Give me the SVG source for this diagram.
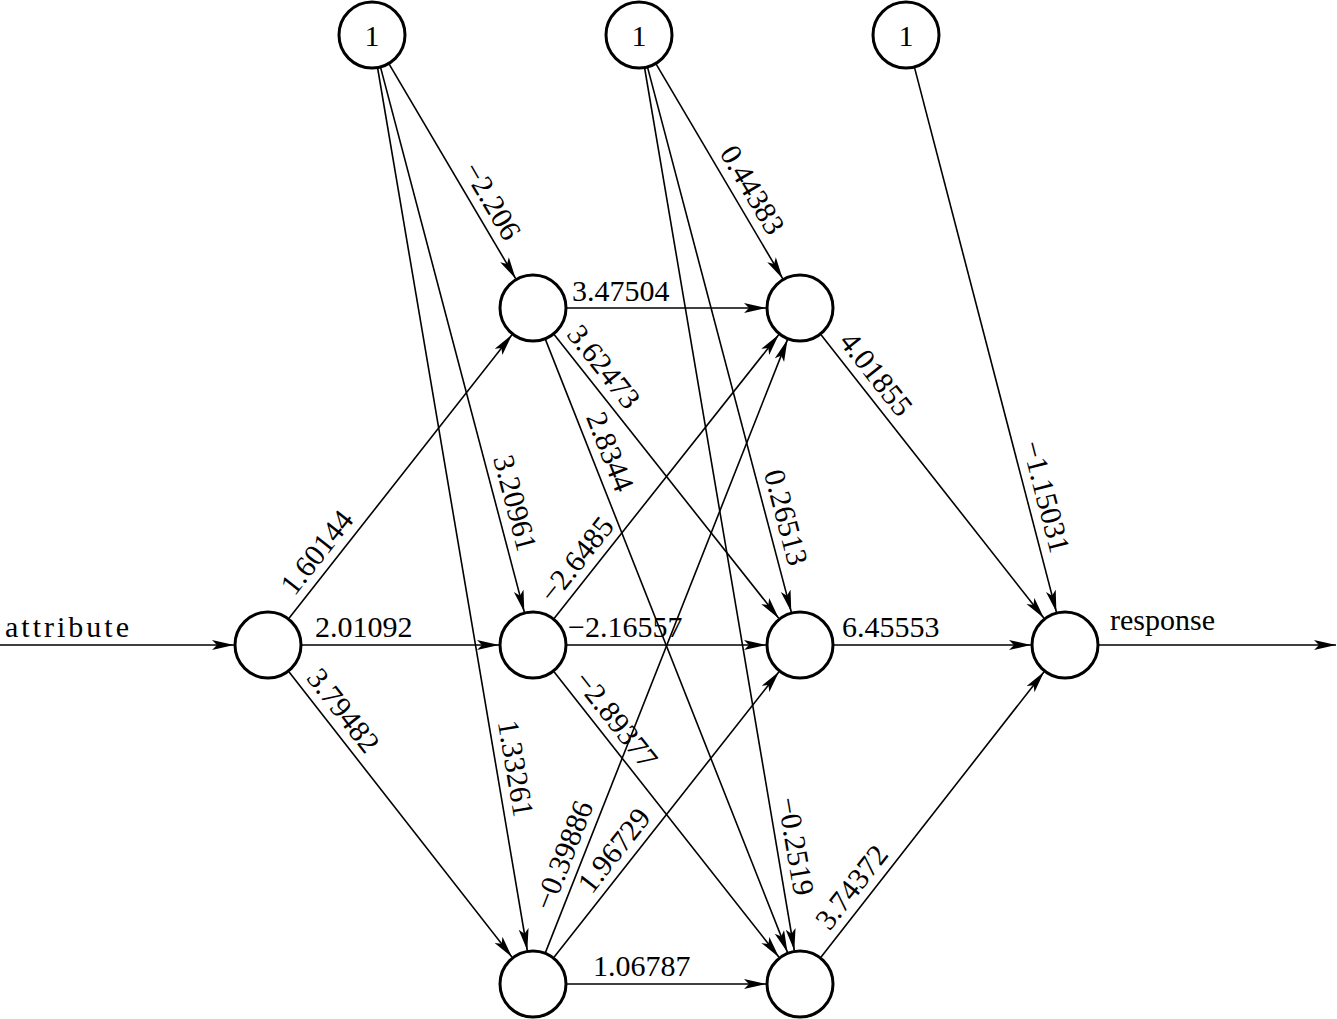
<svg xmlns="http://www.w3.org/2000/svg" width="1337" height="1019" viewBox="0 0 1337 1019">
<style>
.n{fill:#fff;stroke:#000;stroke-width:3}
.e{stroke:#000;stroke-width:1.6;fill:none;marker-end:url(#ah)}
text{font-family:"Liberation Serif","Times New Roman",serif;font-size:30px;fill:#000}
.m{text-anchor:middle}
</style>
<defs>
<marker id="ah" markerUnits="userSpaceOnUse" markerWidth="24" markerHeight="12" refX="22" refY="5" orient="auto">
<path d="M0,0 L22,5 L0,10 L5,5 z" fill="#000"/>
</marker>
</defs>
<rect width="1337" height="1019" fill="#fff"/>
<g id="connectors">
<line class="e" x1="389.3" y1="64.3" x2="515.7" y2="278.7"/>
<line class="e" x1="380.7" y1="67.9" x2="524.3" y2="612.1"/>
<line class="e" x1="377.7" y1="68.5" x2="527.3" y2="950.5"/>
<line class="e" x1="656.3" y1="64.3" x2="782.7" y2="278.7"/>
<line class="e" x1="647.7" y1="67.9" x2="791.3" y2="612.1"/>
<line class="e" x1="644.7" y1="68.5" x2="794.3" y2="950.5"/>
<line class="e" x1="914.6" y1="67.9" x2="1056.4" y2="612.1"/>
<line class="e" x1="289" y1="618.3" x2="512" y2="334.7"/>
<line class="e" x1="302" y1="645" x2="499" y2="645"/>
<line class="e" x1="288.9" y1="671.8" x2="512.1" y2="957.2"/>
<line class="e" x1="567" y1="308" x2="766" y2="308"/>
<line class="e" x1="554.1" y1="334.6" x2="778.9" y2="618.4"/>
<line class="e" x1="545.5" y1="339.6" x2="787.5" y2="952.4"/>
<line class="e" x1="554.1" y1="618.4" x2="778.9" y2="334.6"/>
<line class="e" x1="567" y1="645" x2="766" y2="645"/>
<line class="e" x1="554" y1="671.7" x2="779" y2="957.3"/>
<line class="e" x1="545.5" y1="952.4" x2="787.5" y2="339.6"/>
<line class="e" x1="554" y1="957.3" x2="779" y2="671.7"/>
<line class="e" x1="567" y1="984" x2="766" y2="984"/>
<line class="e" x1="821" y1="334.7" x2="1044" y2="618.3"/>
<line class="e" x1="834" y1="645" x2="1031" y2="645"/>
<line class="e" x1="820.9" y1="957.2" x2="1044.1" y2="671.8"/>
<line class="e" x1="0" y1="645" x2="234" y2="645"/>
<line class="e" x1="1099" y1="645" x2="1336" y2="645"/>
</g>
<g id="labels">
<text class="m" transform="translate(475.6,210.7) rotate(59.47)" y="-9">−2.206</text>
<text class="m" transform="translate(496.8,507.8) rotate(75.21)" y="-9">3.20961</text>
<text class="m" transform="translate(497,771.5) rotate(80.37)" y="-9">1.33261</text>
<text class="m" transform="translate(736,199.5) rotate(59.47)" y="-9">0.44383</text>
<text class="m" transform="translate(767.6,522.3) rotate(75.21)" y="-9">0.26513</text>
<text class="m" transform="translate(777.2,849.4) rotate(80.37)" y="-9">−0.2519</text>
<text class="m" transform="translate(1027.6,501.4) rotate(75.39)" y="-9">−1.15031</text>
<text class="m" transform="translate(331.7,564) rotate(-51.82)" y="-9">1.60144</text>
<text class="m" transform="translate(328.4,722.2) rotate(51.98)" y="-9">3.79482</text>
<text class="m" transform="translate(588.9,378.5) rotate(51.62)" y="-9">3.62473</text>
<text class="m" transform="translate(592.5,458.7) rotate(68.45)" y="-9">2.8344</text>
<text class="m" transform="translate(591.4,571.3) rotate(-51.62)" y="-9">−2.6485</text>
<text class="m" transform="translate(601.1,731.4) rotate(51.78)" y="-9">−2.89377</text>
<text class="m" transform="translate(581.1,862.2) rotate(-68.45)" y="-9">−0.39886</text>
<text class="m" transform="translate(628.9,862.2) rotate(-51.78)" y="-9">1.96729</text>
<text class="m" transform="translate(861.2,385.8) rotate(51.82)" y="-9">4.01855</text>
<text class="m" transform="translate(866.5,898.9) rotate(-51.98)" y="-9">3.74372</text>
<text x="572" y="301">3.47504</text>
<text x="315" y="637">2.01092</text>
<text x="568" y="637">−2.16557</text>
<text x="842" y="637">6.45553</text>
<text x="593" y="976">1.06787</text>
<text x="5" y="637" textLength="124" lengthAdjust="spacing">attribute</text>
<text x="1110" y="630">response</text>
</g>
<g id="bias1"><circle class="n" cx="372" cy="35" r="33"/><text class="m" x="372" y="46">1</text></g>
<g id="bias2"><circle class="n" cx="639" cy="35" r="33"/><text class="m" x="639" y="46">1</text></g>
<g id="bias3"><circle class="n" cx="906" cy="35" r="33"/><text class="m" x="906" y="46">1</text></g>
<g id="input"><circle class="n" cx="268" cy="645" r="33"/></g>
<g id="h11"><circle class="n" cx="533" cy="308" r="33"/></g>
<g id="h12"><circle class="n" cx="533" cy="645" r="33"/></g>
<g id="h13"><circle class="n" cx="533" cy="984" r="33"/></g>
<g id="h21"><circle class="n" cx="800" cy="308" r="33"/></g>
<g id="h22"><circle class="n" cx="800" cy="645" r="33"/></g>
<g id="h23"><circle class="n" cx="800" cy="984" r="33"/></g>
<g id="output"><circle class="n" cx="1065" cy="645" r="33"/></g>
</svg>
